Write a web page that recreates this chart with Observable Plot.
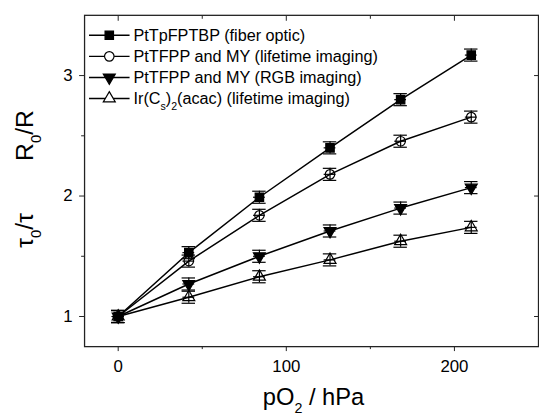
<!DOCTYPE html>
<html>
<head>
<meta charset="utf-8">
<script src="https://cdn.jsdelivr.net/npm/d3@7"></script>
<script src="https://cdn.jsdelivr.net/npm/@observablehq/plot@0.6"></script>
<style>
  html, body { margin: 0; padding: 0; background: #fff; overflow: hidden; }
  #chart { width: 539px; height: 419px; overflow: hidden; }
  svg { font-family: "Liberation Sans", Arial, sans-serif; }
</style>
</head>
<body>
<div id="chart"></div>
<script>
// ---- data ----
const pO2 = [0, 42, 84, 126, 168, 210];
const seriesNames = [
  "PtTpFPTBP (fiber optic)",
  "PtTFPP and MY (lifetime imaging)",
  "PtTFPP and MY (RGB imaging)",
  "Ir(Cs)2(acac) (lifetime imaging)"
];
const fiberOptic   = [1.00, 1.53, 1.99, 2.40, 2.80, 3.17];
const tfppLifetime = [1.00, 1.46, 1.84, 2.18, 2.455, 2.655];
const tfppRGB      = [1.00, 1.27, 1.50, 1.71, 1.90, 2.07];
const irLifetime   = [1.00, 1.16, 1.33, 1.47, 1.625, 1.74];
const yErr = [0.05, 0.05, 0.05, 0.05, 0.05, 0.05];
const xErr = [3.5, 3.5, 3.5, 3.5, 3.5, 3.5];
const xTicks = [0, 100, 200];
const xMinorTicks = [50, 150];
const yTicks = [1, 2, 3];
const yMinorTicks = [1.5, 2.5];

const triangleDown = {
  draw(ctx, size) {
    const y = -Math.sqrt(size / (Math.sqrt(3) * 3));
    ctx.moveTo(0, -y * 2);
    ctx.lineTo(-Math.sqrt(3) * y, y);
    ctx.lineTo(Math.sqrt(3) * y, y);
    ctx.closePath();
  }
};
const symbols = ["square", "circle", triangleDown, "triangle"];
const symbolTypes = [d3.symbolSquare, d3.symbolCircle, triangleDown, d3.symbolTriangle];
const fills = ["black", "white", "black", "white"];
const radii = [4.8, 4.8, 4.5, 4.5];
const seriesValues = [fiberOptic, tfppLifetime, tfppRGB, irLifetime];

const rows = [];
seriesValues.forEach((vals, s) => {
  vals.forEach((v, i) => rows.push({
    s, name: seriesNames[s], x: pO2[i], y: v, ye: yErr[i], xe: xErr[i]
  }));
});

const capHalf = 4; // hPa
const fmt = d3.format("d");
const marks = [
  Plot.frame({stroke: "#222", strokeWidth: 1.3}),
  // bottom axis
  Plot.axisX(xTicks, {anchor: "bottom", tickSize: 5, tickPadding: 9, fontSize: 17, stroke: "#222", label: null, tickFormat: fmt}),
  Plot.axisX(xMinorTicks, {anchor: "bottom", tickSize: 3, text: null, stroke: "#222", label: null}),
  // top axis (inward)
  Plot.axisX(xTicks, {anchor: "top", tickSize: -5, text: null, stroke: "#222", label: null}),
  Plot.axisX(xMinorTicks, {anchor: "top", tickSize: -3, text: null, stroke: "#222", label: null}),
  // left axis
  Plot.axisY(yTicks, {anchor: "left", tickSize: 5, tickPadding: 7, fontSize: 17, stroke: "#222", label: null, tickFormat: fmt}),
  Plot.axisY(yMinorTicks, {anchor: "left", tickSize: 3, text: null, stroke: "#222", label: null}),
  // right axis (inward)
  Plot.axisY(yTicks, {anchor: "right", tickSize: -5, text: null, stroke: "#222", label: null}),
  // lines
  Plot.line(rows, {x: "x", y: "y", z: "s", stroke: "black", strokeWidth: 1.5}),
  // error bars
  Plot.ruleX(rows, {x: "x", y1: d => d.y - d.ye, y2: d => d.y + d.ye, stroke: "black", strokeWidth: 1.2}),
  Plot.ruleY(rows, {y: "y", x1: d => d.x - d.xe, x2: d => d.x + d.xe, stroke: "black", strokeWidth: 1.2}),
  Plot.ruleY(rows, {y: d => d.y - d.ye, x1: d => d.x - capHalf, x2: d => d.x + capHalf, stroke: "black", strokeWidth: 1.2}),
  Plot.ruleY(rows, {y: d => d.y + d.ye, x1: d => d.x - capHalf, x2: d => d.x + capHalf, stroke: "black", strokeWidth: 1.2}),
];
seriesValues.forEach((vals, s) => {
  marks.push(Plot.dot(rows.filter(d => d.s === s), {
    x: "x", y: "y", symbol: () => symbols[s], r: radii[s],
    fill: fills[s], fillOpacity: s % 2 ? 0 : 1, stroke: "black", strokeWidth: 1.2
  }));
});

const plot = Plot.plot({
  width: 545,
  height: 419,
  marginLeft: 85,
  marginRight: 1,
  marginTop: 15,
  marginBottom: 69,
  x: {domain: [-20, 250]},
  y: {domain: [0.75, 3.5]},
  style: {fontFamily: "Liberation Sans, Arial, sans-serif", background: "white", color: "black", overflow: "visible"},
  marks
});
document.getElementById("chart").appendChild(plot);

// ---- axis titles and legend (text with subscripts) ----
const svg = d3.select(plot);
const ff = "Liberation Sans, Arial, sans-serif";

function addText(g, parts, attrs) {
  const t = g.append("text").attr("font-family", ff).attr("fill", "black");
  Object.entries(attrs).forEach(([k, v]) => t.attr(k, v));
  parts.forEach(p => {
    const ts = t.append("tspan").text(p.t);
    if (p.sub) ts.attr("baseline-shift", "sub").attr("font-size", p.sub);
  });
  return t;
}

addText(svg, [{t: "p"}, {t: "O"}, {t: "2", sub: "0.6em"}, {t: " / hPa"}],
  {x: 317, y: 410, "text-anchor": "middle", "font-size": 24});
addText(svg, [{t: "R"}, {t: "0", sub: "0.6em"}, {t: "/R"}],
  {transform: "translate(33,137) rotate(-90)", "text-anchor": "middle", "font-size": 25});
addText(svg, [{t: "τ"}, {t: "0", sub: "0.6em"}, {t: "/τ"}],
  {transform: "translate(33,233) rotate(-90)", "text-anchor": "middle", "font-size": 25});

const legendLabels = [
  [{t: "PtTpFPTBP (fiber optic)"}],
  [{t: "PtTFPP and MY (lifetime imaging)"}],
  [{t: "PtTFPP and MY (RGB imaging)"}],
  [{t: "Ir(C"}, {t: "s", sub: "0.65em"}, {t: ")"}, {t: "2", sub: "0.65em"}, {t: "(acac) (lifetime imaging)"}]
];
const lg = svg.append("g");
legendLabels.forEach((parts, i) => {
  const cy = 35.7 + i * 21.3;
  lg.append("line").attr("x1", 90).attr("x2", 131).attr("y1", cy).attr("y2", cy)
    .attr("stroke", "black").attr("stroke-width", 1.5);
  lg.append("path")
    .attr("d", d3.symbol(symbolTypes[i], Math.PI * radii[i] * radii[i])())
    .attr("transform", `translate(110.5,${cy})`)
    .attr("fill", fills[i]).attr("stroke", "black").attr("stroke-width", 1.2);
  addText(lg, parts, {x: 135, y: cy + 5.8, "font-size": 16.4, "text-anchor": "start"});
});
</script>
</body>
</html>
